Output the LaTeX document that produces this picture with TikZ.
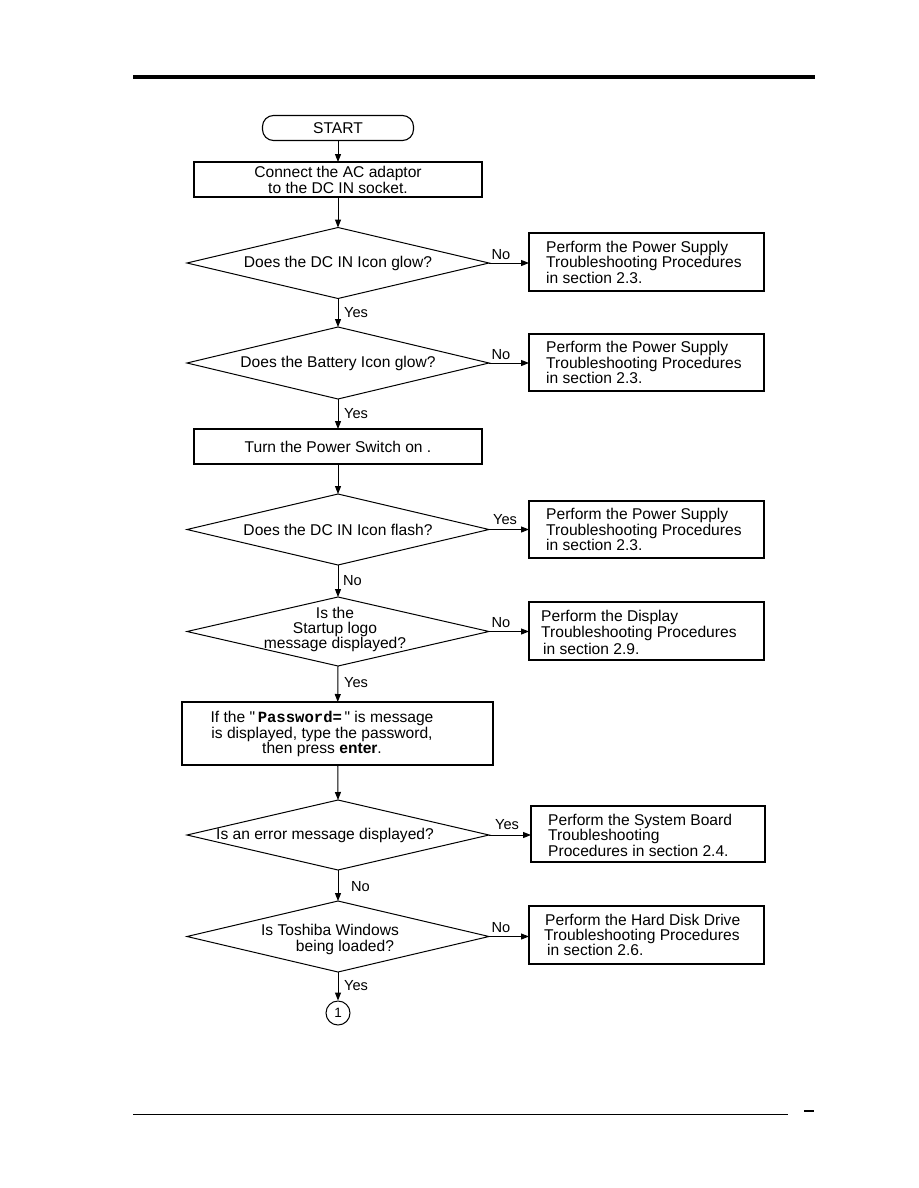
\documentclass[tikz,border=0pt]{standalone}
\usepackage{fontspec}
\setmainfont{Liberation Sans}
\setmonofont{Liberation Mono}
\usetikzlibrary{shapes.geometric,arrows.meta}
\newcommand{\straightquote}{{\XeTeXglyph\XeTeXcharglyph"22\relax}}
\begin{document}
\begin{tikzpicture}[x=1pt,y=-1pt,
  every node/.style={font=\fontsize{15.6}{14}\selectfont},
  box/.style={draw,line width=1.1pt,inner sep=0pt,outer sep=0pt},
  dia/.style={draw,diamond,line width=1pt,minimum width=302pt,minimum height=71pt,inner sep=0pt,outer sep=0pt},
  txt/.style={align=center,inner sep=0pt},
  side/.style={align=left,inner sep=0pt,anchor=west},
  lbl/.style={font=\fontsize{14.6}{14}\selectfont,inner sep=0pt},
  arr/.style={line width=1pt,-{Triangle[length=8pt,width=6pt]}},
]
\fill[white] (0,0) rectangle (918,1188);
\useasboundingbox (0,0) rectangle (918,1188);

% page rules
\draw[line width=4pt] (133,77) -- (815,77);
\draw[line width=1pt] (133,1114) -- (788,1114);
\draw[line width=1.2pt] (804,1111) -- (814,1111);

% main column
\node[box,rounded corners=11pt,minimum width=151pt,minimum height=25pt] (start) at (338,128) {START};
\node[box,minimum width=288pt,minimum height=35pt,align=center,font=\fontsize{15.6}{16}\selectfont] (b1) at (338,179.5) {Connect the AC adaptor\\to the DC IN socket.};
\node[dia] (d1) at (338,263) {};
\node[txt] at (d1) {Does the DC IN Icon glow?};
\node[dia,minimum height=72pt] (d2) at (338,363) {};
\node[txt] at (d2) {Does the Battery Icon glow?};
\node[box,minimum width=288pt,minimum height=35pt] (b3) at (338,446.5) {Turn the Power Switch on .};
\node[dia] (d3) at (338,529.5) {};
\node[txt] at (d3) {Does the DC IN Icon flash?};
\node[dia,minimum height=69pt] (d4) at (338,631.5) {};
\node[txt,font=\fontsize{15.6}{15}\selectfont] at (335,629) {Is the\\Startup logo\\message displayed?};
\node[box,minimum width=311pt,minimum height=63pt] (b5) at (337.5,733.5) {};
\node[txt,font=\fontsize{15.6}{15.5}\selectfont] at (322,734) {If the \straightquote\,{\ttfamily\bfseries Password=}\,\straightquote{} is message\\is displayed, type the password,\\then press \textbf{enter}.};
\node[dia,minimum height=70pt] (d5) at (338,835) {};
\node[txt] at (325,835) {Is an error message displayed?};
\node[dia] (d6) at (338,936.5) {};
\node[txt,font=\fontsize{15.6}{16}\selectfont] at (330,939) {Is Toshiba Windows\\\hspace*{30pt}being loaded?};
\node[draw,circle,minimum size=24pt,inner sep=0pt,line width=1pt,font=\fontsize{13.5}{13}\selectfont] (c1) at (338,1013) {1};

% side boxes
\node[box,minimum width=235pt,minimum height=58pt] (s1) at (646.5,262) {};
\node[side] at (546,262) {Perform the Power Supply\\Troubleshooting Procedures\\in section 2.3.};
\node[box,minimum width=235pt,minimum height=57pt] (s2) at (646.5,362.5) {};
\node[side] at (546,362.5) {Perform the Power Supply\\Troubleshooting Procedures\\in section 2.3.};
\node[box,minimum width=235pt,minimum height=57pt] (s3) at (646.5,529.5) {};
\node[side] at (546,529.5) {Perform the Power Supply\\Troubleshooting Procedures\\in section 2.3.};
\node[box,minimum width=235pt,minimum height=58pt] (s4) at (646.5,631) {};
\node[side,font=\fontsize{15.6}{16.5}\selectfont] at (541,632) {Perform the Display\\Troubleshooting Procedures\\\hspace*{2pt}in section 2.9.};
\node[box,minimum width=234pt,minimum height=56pt] (s5) at (648,834) {};
\node[side] at (548,835) {Perform the System Board\\Troubleshooting\\Procedures in section 2.4.};
\node[box,minimum width=235pt,minimum height=58pt] (s6) at (646.5,935) {};
\node[side,font=\fontsize{15.6}{14.5}\selectfont] at (544,935) {\hspace*{1pt}Perform the Hard Disk Drive\\Troubleshooting Procedures\\\hspace*{3pt}in section 2.6.};

% vertical connectors
\draw[arr] (start) -- (b1);
\draw[arr] (b1) -- (d1.north);
\draw[arr] (d1.south) -- (d2.north);
\draw[arr] (d2.south) -- (b3);
\draw[arr] (b3) -- (d3.north);
\draw[arr] (d3.south) -- (d4.north);
\draw[arr] (d4.south) -- (b5);
\draw[arr] (b5) -- (d5.north);
\draw[arr] (d5.south) -- (d6.north);
\draw[arr] (d6.south) -- (c1);

% horizontal connectors
\draw[arr] (d1.east) -- (d1.east -| s1.west);
\draw[arr] (d2.east) -- (d2.east -| s2.west);
\draw[arr] (d3.east) -- (d3.east -| s3.west);
\draw[arr] (d4.east) -- (d4.east -| s4.west);
\draw[arr] (d5.east) -- (d5.east -| s5.west);
\draw[arr] (d6.east) -- (d6.east -| s6.west);

% labels
\node[lbl,anchor=west] at (344,313) {Yes};
\node[lbl,anchor=west] at (344,414) {Yes};
\node[lbl,anchor=west] at (343,581) {No};
\node[lbl,anchor=west] at (344,683) {Yes};
\node[lbl,anchor=west] at (351,887) {No};
\node[lbl,anchor=west] at (344,986) {Yes};
\node[lbl] at (501,255) {No};
\node[lbl] at (501,355) {No};
\node[lbl] at (505,520) {Yes};
\node[lbl] at (501,623) {No};
\node[lbl] at (507,825) {Yes};
\node[lbl] at (501,928) {No};
\end{tikzpicture}
\end{document}
